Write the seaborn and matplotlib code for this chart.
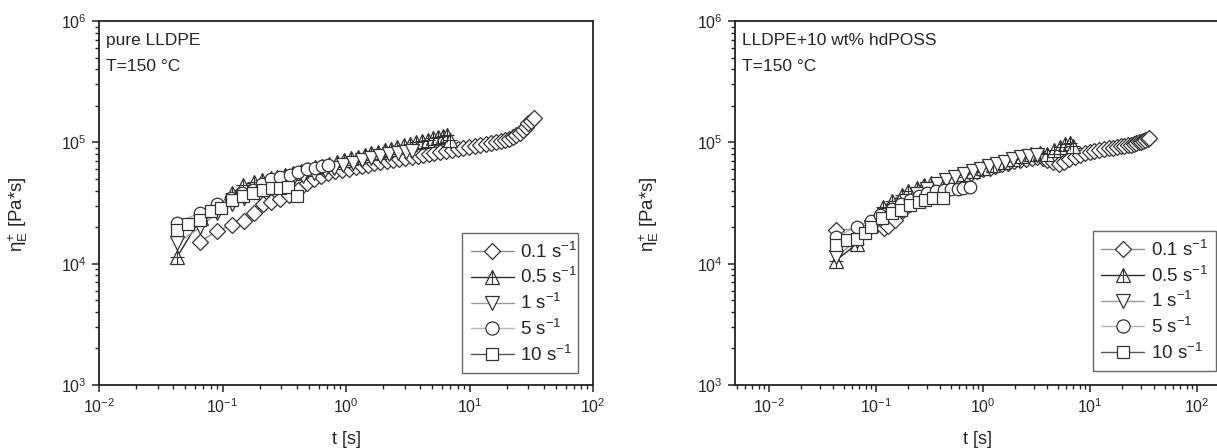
import numpy as np
import matplotlib
matplotlib.use("Agg")
import matplotlib.pyplot as plt
from matplotlib.lines import Line2D
from matplotlib.legend_handler import HandlerTuple
from matplotlib.ticker import LogLocator, LogFormatterSciNotation, NullFormatter
import seaborn as sns

# ---------------- data: transient elongational viscosity ----------------
rates = ["0.1", "0.5", "1", "5", "10"]

# pure LLDPE
neat_t_01 = [0.066, 0.091, 0.119, 0.149, 0.181, 0.212, 0.247, 0.292, 0.344, 0.411, 0.481,
             0.55, 0.63, 0.72, 0.82, 0.93, 1.05, 1.2, 1.35, 1.5, 1.7, 1.9, 2.15, 2.4, 2.7,
             3.0, 3.4, 3.8, 4.2, 4.7, 5.2, 5.8, 6.5, 7.2, 8.0, 8.9, 9.9, 11.0, 12.2, 13.5,
             15.0, 16.5, 18.0, 19.5, 21.0, 22.5, 24.0, 25.5, 27.0, 28.5, 30.0, 31.5, 33.3]
neat_e_01 = [1.52e4, 1.87e4, 2.07e4, 2.24e4, 2.6e4, 3.1e4, 3.24e4, 3.4e4, 3.68e4, 4.05e4, 4.6e4,
             5.0e4, 5.3e4, 5.55e4, 5.75e4, 5.9e4, 6.05e4, 6.25e4, 6.4e4, 6.55e4, 6.7e4, 6.85e4,
             7.0e4, 7.15e4, 7.3e4, 7.45e4, 7.6e4, 7.75e4, 7.9e4, 8.05e4, 8.2e4, 8.35e4, 8.5e4,
             8.65e4, 8.8e4, 8.95e4, 9.1e4, 9.3e4, 9.45e4, 9.6e4, 9.8e4, 1.0e5, 1.02e5, 1.04e5,
             1.07e5, 1.1e5, 1.15e5, 1.2e5, 1.27e5, 1.35e5, 1.43e5, 1.5e5, 1.6e5]

neat_t_05 = [0.043, 0.067, 0.092, 0.12, 0.147, 0.18, 0.21, 0.245, 0.278, 0.32, 0.37, 0.43,
             0.49, 0.56, 0.64, 0.73, 0.84, 0.96, 1.1, 1.25, 1.42, 1.6, 1.82, 2.05, 2.3, 2.6,
             2.95, 3.3, 3.7, 4.1, 4.6, 5.1, 5.6, 6.1, 6.6, 7.0]
neat_e_05 = [1.14e4, 2.4e4, 3.0e4, 3.8e4, 4.46e4, 4.69e4, 4.87e4, 5.06e4, 5.22e4, 5.41e4,
             5.61e4, 5.82e4, 6.02e4, 6.22e4, 6.44e4, 6.65e4, 6.89e4, 7.13e4, 7.37e4, 7.61e4,
             7.86e4, 8.1e4, 8.36e4, 8.6e4, 8.87e4, 9.14e4, 9.44e4, 9.7e4, 9.98e4, 1.02e5,
             1.05e5, 1.08e5, 1.11e5, 1.13e5, 1.15e5, 1.05e5]

neat_t_1 = [0.043, 0.066, 0.09, 0.12, 0.15, 0.19, 0.24, 0.3, 0.37, 0.45, 0.55, 0.67, 0.8,
            0.95, 1.13, 1.35, 1.6, 1.9, 2.25, 2.65, 3.05, 3.45]
neat_e_1 = [1.47e4, 2.0e4, 2.6e4, 3.1e4, 3.5e4, 3.9e4, 4.3e4, 4.7e4, 5.0e4, 5.3e4, 5.6e4,
            5.9e4, 6.2e4, 6.5e4, 6.8e4, 7.1e4, 7.4e4, 7.7e4, 8.0e4, 8.2e4, 8.4e4, 8.5e4]

neat_t_5 = [0.043, 0.066, 0.09, 0.118, 0.145, 0.177, 0.21, 0.245, 0.29, 0.35, 0.41, 0.48,
            0.56, 0.64, 0.72]
neat_e_5 = [2.18e4, 2.63e4, 3.13e4, 3.5e4, 3.8e4, 4.05e4, 4.5e4, 4.95e4, 5.15e4, 5.35e4,
            5.7e4, 6.0e4, 6.2e4, 6.4e4, 6.5e4]

neat_t_10 = [0.043, 0.053, 0.066, 0.08, 0.098, 0.119, 0.146, 0.177, 0.214, 0.25, 0.29,
             0.34, 0.40]
neat_e_10 = [1.9e4, 2.12e4, 2.3e4, 2.7e4, 2.85e4, 3.35e4, 3.6e4, 3.8e4, 4.05e4, 4.2e4,
             4.23e4, 4.3e4, 3.6e4]

# LLDPE + 10 wt% hdPOSS
poss_t_01 = [0.042, 0.12, 0.13, 0.15, 0.18, 0.21, 0.25, 0.3, 0.36, 0.43, 0.5, 0.58, 0.67,
             0.77, 0.88, 1.0, 1.15, 1.3, 1.5, 1.7, 1.95, 2.2, 2.5, 2.85, 3.2, 3.6, 4.0, 4.5,
             5.1, 5.7, 6.4, 7.2, 8.0, 8.9, 9.9, 11.0, 12.2, 13.5, 15.0, 16.5, 18.0, 19.5,
             21.0, 22.5, 24.0, 25.5, 27.0, 28.5, 30.0, 31.5, 33.0, 34.5, 35.6]
poss_e_01 = [1.9e4, 1.95e4, 2.05e4, 2.3e4, 2.75e4, 3.1e4, 3.5e4, 3.9e4, 4.25e4, 4.6e4,
             4.9e4, 5.15e4, 5.4e4, 5.6e4, 5.8e4, 6.0e4, 6.2e4, 6.4e4, 6.6e4, 6.8e4, 7.0e4,
             7.15e4, 7.3e4, 7.45e4, 7.55e4, 7.4e4, 7.1e4, 6.9e4, 6.6e4, 6.9e4, 7.3e4, 7.6e4,
             7.9e4, 8.1e4, 8.3e4, 8.5e4, 8.65e4, 8.8e4, 8.95e4, 9.05e4, 9.15e4, 9.25e4,
             9.35e4, 9.45e4, 9.55e4, 9.7e4, 9.85e4, 1.0e5, 1.01e5, 1.03e5, 1.05e5, 1.07e5,
             1.09e5]

poss_t_05 = [0.042, 0.066, 0.09, 0.117, 0.14, 0.174, 0.2, 0.24, 0.28, 0.33, 0.42, 0.53,
             0.65, 0.8, 1.0, 1.25, 1.55, 1.9, 2.3, 2.8, 3.4, 4.0, 4.6, 5.2, 5.9, 6.5, 7.0]
poss_e_05 = [1.06e4, 1.45e4, 2.1e4, 2.95e4, 3.3e4, 3.68e4, 3.95e4, 4.2e4, 4.45e4, 4.65e4,
             4.9e4, 5.2e4, 5.5e4, 5.8e4, 6.1e4, 6.5e4, 6.9e4, 7.3e4, 7.7e4, 8.0e4, 8.2e4,
             8.0e4, 8.6e4, 9.2e4, 9.6e4, 9.9e4, 9.3e4]

poss_t_1 = [0.042, 0.066, 0.09, 0.12, 0.15, 0.19, 0.24, 0.3, 0.37, 0.45, 0.55, 0.67, 0.8,
            0.95, 1.13, 1.35, 1.6, 1.9, 2.25, 2.7, 3.2]
poss_e_1 = [1.14e4, 1.55e4, 2.0e4, 2.5e4, 2.9e4, 3.3e4, 3.75e4, 4.15e4, 4.5e4, 4.85e4,
            5.2e4, 5.5e4, 5.8e4, 6.05e4, 6.35e4, 6.65e4, 6.95e4, 7.25e4, 7.5e4, 7.7e4, 7.9e4]

poss_t_5 = [0.042, 0.066, 0.089, 0.11, 0.14, 0.17, 0.21, 0.25, 0.3, 0.36, 0.43, 0.5, 0.58,
            0.65, 0.75]
poss_e_5 = [1.67e4, 2.0e4, 2.26e4, 2.5e4, 2.8e4, 3.1e4, 3.35e4, 3.6e4, 3.8e4, 3.95e4,
            4.05e4, 4.1e4, 4.15e4, 4.2e4, 4.3e4]

poss_t_10 = [0.042, 0.053, 0.066, 0.079, 0.09, 0.113, 0.14, 0.17, 0.21, 0.25, 0.29, 0.34,
             0.42]
poss_e_10 = [1.43e4, 1.57e4, 1.6e4, 1.8e4, 2.0e4, 2.37e4, 2.6e4, 2.75e4, 3.05e4, 3.25e4,
             3.35e4, 3.45e4, 3.5e4]

neat_series = [(neat_t_01, neat_e_01), (neat_t_05, neat_e_05), (neat_t_1, neat_e_1),
               (neat_t_5, neat_e_5), (neat_t_10, neat_e_10)]
poss_series = [(poss_t_01, poss_e_01), (poss_t_05, poss_e_05), (poss_t_1, poss_e_1),
               (poss_t_5, poss_e_5), (poss_t_10, poss_e_10)]

# ---------------- styling ----------------
sns.set_style("ticks")
plt.rcParams["font.family"] = ["Liberation Sans", "DejaVu Sans"]
plt.rcParams["mathtext.fontset"] = "custom"
plt.rcParams["mathtext.rm"] = "Liberation Sans"
plt.rcParams["mathtext.it"] = "Liberation Sans:italic"
plt.rcParams["mathtext.bf"] = "Liberation Sans:bold"

EDGE = "#333333"
markers = ["D", "^", "v", "o", "s"]
msizes = [8, 9.5, 9.5, 9, 8]
line_colors = ["#8c8c8c", "#2b2b2b", "#9a9a9a", "#b4b4b4", "#555555"]

fig = plt.figure(figsize=(12.17, 4.48), dpi=100)
W, H = 1217.0, 448.0
ax_l = fig.add_axes([99 / W, (H - 385) / H, 494 / W, 364 / H])
ax_r = fig.add_axes([735 / W, (H - 385) / H, 485 / W, 364 / H])


def draw_panel(ax, series, xlim, title):
    for i, (t, eta) in enumerate(series):
        sns.lineplot(x=t, y=eta, ax=ax, color=line_colors[i], linewidth=1.0,
                     marker=markers[i], markersize=msizes[i],
                     markerfacecolor="white", markeredgecolor=EDGE,
                     markeredgewidth=0.9, legend=False, zorder=2 + i)
        if markers[i] == "^":
            ax.plot(t, eta, linestyle="none", marker="+", markersize=9.5,
                    markeredgecolor=EDGE, markeredgewidth=0.8, zorder=2 + i)

    ax.set_xscale("log")
    ax.set_yscale("log")
    ax.set_xlim(*xlim)
    ax.set_ylim(1e3, 1e6)

    for axis in (ax.xaxis, ax.yaxis):
        axis.set_major_locator(LogLocator(base=10, numticks=20))
        axis.set_minor_locator(LogLocator(base=10, subs=np.arange(2, 10), numticks=20))
        axis.set_major_formatter(LogFormatterSciNotation())
        axis.set_minor_formatter(NullFormatter())

    ax.tick_params(which="major", direction="out", length=5, width=1.1,
                   labelsize=11.5, color="#222222", pad=4)
    ax.tick_params(which="minor", direction="out", length=3, width=1.0, color="#222222")
    ax.tick_params(top=False, right=False, which="both")
    for sp in ax.spines.values():
        sp.set_linewidth(1.3)
        sp.set_color("#222222")

    ax.set_xlabel("t [s]", fontsize=13)
    ax.set_ylabel("η$^{+}_{\\mathrm{E}}$ [Pa*s]", fontsize=13.5)
    ax.xaxis.set_label_coords(0.5, -0.125)

    ax.text(0.014, 0.934, title, transform=ax.transAxes, fontsize=12.5,
            va="baseline", ha="left")
    ax.text(0.014, 0.863, "T=150 °C", transform=ax.transAxes, fontsize=12.5,
            va="baseline", ha="left")


draw_panel(ax_l, neat_series, (1e-2, 1e2), "pure LLDPE")
draw_panel(ax_r, poss_series, (10 ** -2.318, 10 ** 2.215), "LLDPE+10 wt% hdPOSS")
ax_l.yaxis.set_label_coords(-0.14, 0.47)
ax_r.yaxis.set_label_coords(-0.153, 0.47)


def legend_handles():
    handles = []
    for i in range(len(rates)):
        h = Line2D([], [], color=line_colors[i], linewidth=1.0, marker=markers[i],
                   markersize=msizes[i] + 0.5, markerfacecolor="white",
                   markeredgecolor=EDGE, markeredgewidth=0.9)
        if markers[i] == "^":
            p = Line2D([], [], linestyle="none", marker="+", markersize=10,
                       markeredgecolor=EDGE, markeredgewidth=0.8)
            h = (h, p)
        handles.append(h)
    return handles


labels = [f"{r} s$^{{-1}}$" for r in rates]
for ax, bbox in ((ax_l, (0.735, 0.033, 0.235, 0.39)), (ax_r, (0.738, 0.038, 0.254, 0.405))):
    leg = ax.legend(legend_handles(), labels, loc="lower left", bbox_to_anchor=bbox,
                    mode="expand", fontsize=13.5, frameon=True, fancybox=False,
                    handlelength=2.3, handletextpad=0.35, labelspacing=0.3,
                    borderpad=0.45, borderaxespad=0.0,
                    handler_map={tuple: HandlerTuple(ndivide=1)})
    leg.get_frame().set_edgecolor("#444444")
    leg.get_frame().set_linewidth(1.0)

fig.savefig("out.png", dpi=100)
